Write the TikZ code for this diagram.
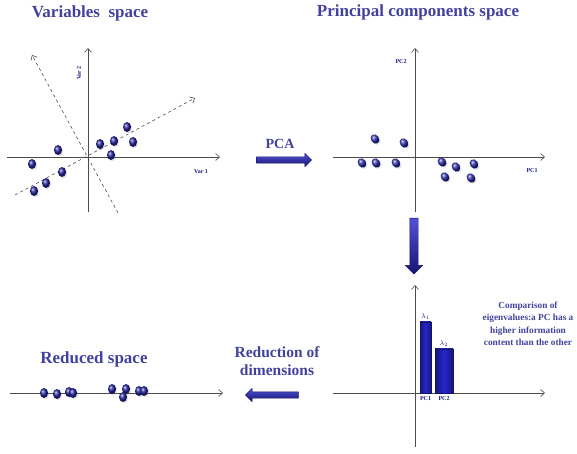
\documentclass[tikz,border=0pt]{standalone}
\usepackage{fontspec}
\setmainfont{Liberation Serif}
\usepackage{xcolor}
\usepackage{tikz}
\usetikzlibrary{arrows.meta, positioning, shapes.geometric, shapes.arrows, shadows}
\definecolor{titleblue}{RGB}{66,66,158}
\definecolor{dotblue}{RGB}{36,36,160}
\definecolor{barblue}{RGB}{38,38,205}

\begin{document}
\begin{tikzpicture}[
  x=1pt, y=-1pt,
  title/.style={font=\fontsize{17}{19}\selectfont\bfseries, text=titleblue},
  mid/.style={font=\fontsize{15.5}{17.5}\selectfont\bfseries, text=titleblue, align=center},
  tiny/.style={font=\fontsize{6}{7}\selectfont\bfseries, text=dotblue!80!black, inner sep=1pt},
  note/.style={font=\fontsize{9.3}{12.5}\selectfont\bfseries, text=titleblue, align=center},
  axis/.style={draw=black!70, line width=0.6pt, -{Straight Barb[length=4pt,width=7pt]}},
  pcline/.style={draw=black!70, dashed, line width=0.6pt, -{Straight Barb[length=4pt,width=7pt]}},
  obs/.style={ellipse, inner sep=0pt, minimum width=8pt, minimum height=10pt,
              ball color=dotblue, drop shadow={shadow xshift=1.2pt, shadow yshift=-1.2pt, opacity=0.25}},
  bar/.style={rectangle, anchor=south, inner sep=0pt, draw=barblue!50!black,
              left color=barblue!60!black, right color=barblue!60!black, middle color=barblue},
  bigarrow/.style={single arrow, inner sep=3pt, single arrow head extend=3.5pt,
                   draw=barblue!50!black, top color=barblue!80, bottom color=barblue!55!black}
]
\useasboundingbox (0,0) rectangle (577,454);
%% Titles
\node[title] (t1) at (90,13) {Variables\ \ space};
\node[title] (t2) at (418,12) {Principal components space};
\node[title] (t3) at (94,359) {Reduced space};

%% Variables space: axes
\coordinate (v0) at (88,157);
\coordinate (vl) at (7,157);   \coordinate (vr) at (220,157);
\coordinate (vb) at (88,212);  \coordinate (vt) at (88,48);
\draw[axis] (vl) -- (vr);
\draw[axis] (vb) -- (vt);
\node[tiny, rotate=90] (var2) at (79,73) {Var 2};
\node[tiny] (var1) at (201,172) {Var 1};
%% Variables space: principal directions
\coordinate (d1a) at (15,195);  \coordinate (d1b) at (195,98);
\coordinate (d2a) at (118,213); \coordinate (d2b) at (32,55);
\draw[pcline] (d1a) -- (d1b);
\draw[pcline] (d2a) -- (d2b);
%% Variables space: observations
\foreach \n/\x/\y in {1/58/150, 2/32/164, 3/62/172, 4/46/183, 5/34/191,
                      6/100/144, 7/114/141, 8/127/127, 9/133/142, 10/111/155}{
  \node[obs] (v\n) at (\x,\y) {};}

%% PCA step
\node[mid, font=\fontsize{14}{16}\selectfont\bfseries] (pca) at (280,144) {PCA};
\node[bigarrow, minimum height=55pt] (a1) at (282.5,160) {};

%% Principal components space: axes
\coordinate (pl) at (333,157);  \coordinate (pr) at (545,157);
\coordinate (pb) at (415,212);  \coordinate (pt) at (415,48);
\draw[axis] (pl) -- (pr);
\draw[axis] (pb) -- (pt);
\node[tiny] (pc2) at (401,62) {PC2};
\node[tiny] (pc1) at (532,171) {PC1};
%% Principal components space: observations
\foreach \n/\x/\y in {1/375/139, 2/404/143, 3/362/163, 4/376/163, 5/396/163,
                      6/442/162, 7/456/167, 8/474/164, 9/445/177, 10/471/178}{
  \node[obs, rotate=35] (p\n) at (\x,\y) {};}

%% Down arrow to eigenvalues
\node[bigarrow, minimum height=56pt, inner sep=4pt, single arrow head extend=4.5pt,
      rotate=-90] (a2) at (414,244) {};

%% Eigenvalues chart
\coordinate (el) at (333,393);  \coordinate (er) at (545,393);
\coordinate (eb) at (415,447);  \coordinate (et) at (415,285);
\draw[axis] (el) -- (er);
\draw[axis] (eb) -- (et);
\node[bar, minimum width=11pt, minimum height=71pt] (b1) at (425.5,393) {};
\node[bar, minimum width=18pt, minimum height=44pt] (b2) at (444,393) {};
\node[tiny, font=\fontsize{7}{8}\selectfont, above=0.5pt of b1] (l1) {$\lambda_1$};
\node[tiny, font=\fontsize{7}{8}\selectfont, above=0.5pt of b2] (l2) {$\lambda_2$};
\node[tiny, below=2pt of b1] (bpc1) {PC1};
\node[tiny, below=2pt of b2] (bpc2) {PC2};
\node[note] (cmp) at (528,324) {Comparison of\\eigenvalues:a PC has a\\higher information\\content than the other};

%% Reduction of dimensions
\node[mid] (red) at (277,361) {Reduction of\\dimensions};
\node[bigarrow, minimum height=53pt, rotate=180] (a3) at (273.5,395) {};

%% Reduced space
\coordinate (rl) at (10,393);  \coordinate (rr) at (223,393);
\draw[axis] (rl) -- (rr);
\foreach \n/\x/\y in {1/44/393, 2/57/394, 3/69/392, 4/73/393, 5/112/389,
                      6/126/389, 7/123/397, 8/139/391, 9/144/391}{
  \node[obs] (r\n) at (\x,\y) {};}
\end{tikzpicture}
\end{document}
